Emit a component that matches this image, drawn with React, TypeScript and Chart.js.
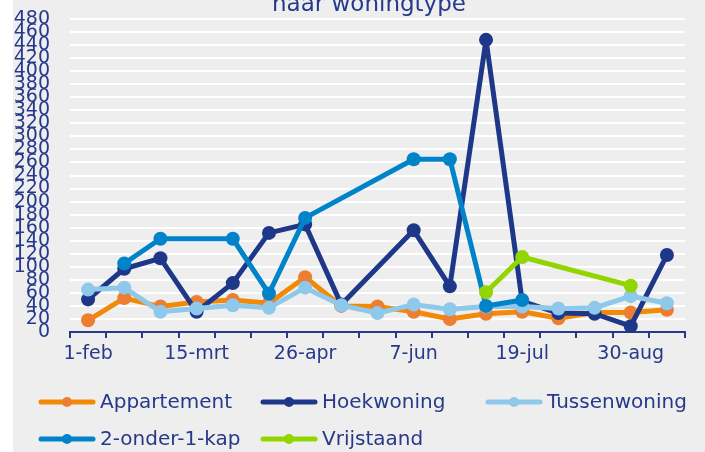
import React, { useEffect, useRef } from "react";
import { Chart, registerables } from "chart.js";

Chart.register(...registerables);

const categories = [
  "1-feb", "15-feb", "1-mrt", "15-mrt", "29-mrt", "12-apr", "26-apr", "10-mei", "24-mei",
  "7-jun", "21-jun", "5-jul", "19-jul", "2-aug", "16-aug", "30-aug", "13-sep",
];

const appartement = [18, 52, 39, 46, 49, 44, 84, 40, 39, 31, 20, 28, 31, 21, 30, 30, 34];
const hoekwoning = [50, 97, 113, 31, 75, 152, 165, 42, null, 156, 70, 448, 47, 29, 28, 9, 118];
const tussenwoning = [65, 68, 31, 36, 41, 37, 68, 41, 29, 42, 35, 39, 39, 36, 37, 55, 44];
const tweeOnderEenKap = [null, 105, 143, null, 143, 59, 175, null, null, 265, 265, 40, 49, null, null, null, null];
const vrijstaand = [null, null, null, null, null, null, null, null, null, null, null, 61, 115, null, null, 71, null];

const seriesNames = ["Appartement", "Hoekwoning", "Tussenwoning", "2-onder-1-kap", "Vrijstaand"];
const titleText = "naar woningtype";

const NAVY = "#27398a";
const FONT = "'DejaVu Sans', sans-serif";

const legendPlugin = {
  id: "columnLegend",
  afterDraw(chart: any) {
    const ctx = chart.ctx;
    ctx.save();
    // title (partly cut at top)
    ctx.fillStyle = NAVY;
    ctx.font = `23px ${FONT}`;
    ctx.textAlign = "center";
    ctx.textBaseline = "alphabetic";
    ctx.fillText(titleText, 356, 11);

    const colX = [26, 248, 473];
    const rowY = [402, 439];
    chart.data.datasets.forEach((ds: any, i: number) => {
      const x0 = colX[i % 3];
      const y = rowY[Math.floor(i / 3)];
      ctx.strokeStyle = ds.borderColor;
      ctx.lineWidth = 5;
      ctx.lineCap = "round";
      ctx.beginPath();
      ctx.moveTo(x0 + 2, y);
      ctx.lineTo(x0 + 54, y);
      ctx.stroke();
      ctx.fillStyle = ds.pointBackgroundColor;
      ctx.beginPath();
      ctx.arc(x0 + 28, y, 5, 0, Math.PI * 2);
      ctx.fill();
      ctx.fillStyle = NAVY;
      ctx.font = `20px ${FONT}`;
      ctx.textAlign = "left";
      ctx.textBaseline = "middle";
      ctx.fillText(ds.label, x0 + 61, y + 1);
    });
    ctx.restore();
  },
};

export default function App() {
  const ref = useRef<HTMLCanvasElement>(null);

  useEffect(() => {
    if (!ref.current) return;
    const mk = (label: string, data: any[], line: string, point: string, order: number) => ({
      label,
      data,
      borderColor: line,
      backgroundColor: point,
      pointBackgroundColor: point,
      pointBorderWidth: 0,
      pointRadius: 7,
      borderWidth: 5,
      borderJoinStyle: "round" as const,
      spanGaps: true,
      tension: 0,
      order,
    });
    const chart = new Chart(ref.current, {
      type: "line",
      data: {
        labels: categories,
        datasets: [
          mk(seriesNames[0], appartement, "#f28a08", "#ed7d31", 5),
          mk(seriesNames[1], hoekwoning, "#1f3788", "#1f3788", 4),
          mk(seriesNames[2], tussenwoning, "#8ec8ea", "#8ec8ea", 3),
          mk(seriesNames[3], tweeOnderEenKap, "#0083c9", "#0083c9", 2),
          mk(seriesNames[4], vrijstaand, "#93d500", "#93d500", 1),
        ],
      },
      options: {
        responsive: false,
        animation: false,
        layout: { padding: { top: 19, right: 20, left: 0, bottom: 0 } },
        plugins: {
          legend: { display: false },
          title: { display: false },
          tooltip: { enabled: false },
        },
        scales: {
          x: {
            offset: true,
            grid: {
              display: true,
              offset: true,
              drawOnChartArea: false,
              drawTicks: true,
              tickLength: 6,
              color: NAVY,
              lineWidth: 2,
            },
            border: { display: true, color: NAVY, width: 2 },
            ticks: {
              autoSkip: false,
              maxRotation: 0,
              padding: 5,
              color: NAVY,
              font: { family: FONT, size: 19 },
              callback: (_v: any, i: number) => (i % 3 === 0 ? categories[i] : ""),
            },
            afterFit: (s: any) => {
              s.height = 120;
              s.paddingLeft = 0;
              s.paddingRight = 0;
            },
          },
          y: {
            min: 0,
            max: 480,
            grid: { color: "#ffffff", lineWidth: 2, drawTicks: false },
            border: { display: false },
            ticks: {
              stepSize: 20,
              autoSkip: false,
              padding: 20,
              color: NAVY,
              font: { family: FONT, size: 19 },
            },
            afterFit: (s: any) => {
              s.width = 57;
              s.paddingTop = 0;
              s.paddingBottom = 0;
            },
          },
        },
      },
      plugins: [legendPlugin],
    });
    return () => chart.destroy();
  }, []);

  return (
    <div style={{ position: "absolute", left: 0, top: 0, width: 705, height: 452, background: "#ffffff" }}>
      <div style={{ position: "absolute", left: 13, top: 0, width: 692, height: 452, background: "#eeeeee" }}>
        <canvas ref={ref} width={692} height={452} style={{ display: "block" }} />
      </div>
    </div>
  );
}
